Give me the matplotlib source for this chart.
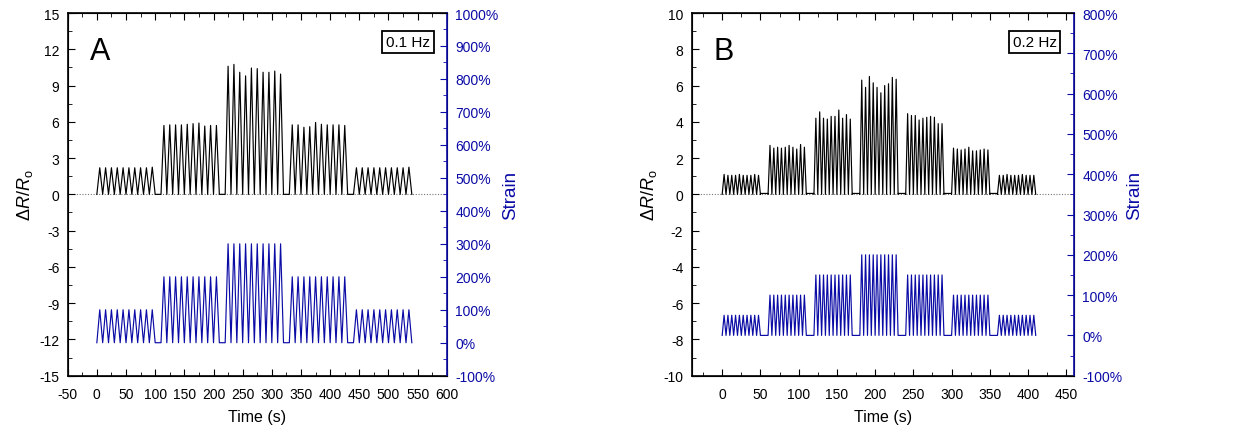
import numpy as np
import matplotlib
matplotlib.use('Agg')
import matplotlib.pyplot as plt
from matplotlib.ticker import MultipleLocator, FuncFormatter

plt.rcParams['font.family'] = ['Liberation Sans', 'DejaVu Sans']
plt.rcParams['mathtext.fontset'] = 'custom'
plt.rcParams['mathtext.rm'] = 'Liberation Sans'
plt.rcParams['mathtext.it'] = 'Liberation Sans:italic'
plt.rcParams['axes.unicode_minus'] = False

# ---- panel A: 0.1 Hz, 10 cycles per block ----
a_starts = [0, 110, 220, 330, 440]
a_period = 10
a_strain = [100, 200, 300, 200, 100]
a_peaks = [
    [2.2, 2.2, 2.2, 2.2, 2.2, 2.2, 2.2, 2.2, 2.2, 2.25],
    [5.7, 5.75, 5.75, 5.75, 5.8, 5.85, 5.9, 5.65, 5.7, 5.7],
    [10.6, 10.75, 10.1, 9.8, 10.45, 10.4, 10.1, 10.1, 10.2, 9.95],
    [5.75, 5.75, 5.55, 5.6, 5.95, 5.8, 5.75, 5.75, 5.75, 5.7],
    [2.2, 2.2, 2.2, 2.2, 2.2, 2.2, 2.2, 2.2, 2.2, 2.25],
]
a_rest = 0.1

# ---- panel B: 0.2 Hz ----
b_starts = [0, 60, 120, 180, 240, 300, 360]
b_period = 5
b_strain = [50, 100, 150, 200, 150, 100, 50]
b_peaks = [
    [1.1, 1.05, 1.05, 1.05, 1.1, 1.05, 1.05, 1.05, 1.1, 1.05],
    [2.7, 2.55, 2.6, 2.55, 2.6, 2.7, 2.6, 2.5, 2.75, 2.6],
    [4.2, 4.55, 4.2, 4.15, 4.3, 4.3, 4.65, 4.2, 4.4, 4.15],
    [6.3, 5.9, 6.5, 6.15, 5.9, 5.6, 6.0, 6.1, 6.45, 6.35],
    [4.45, 4.35, 4.35, 4.1, 4.2, 4.25, 4.3, 4.25, 3.9, 3.9],
    [2.55, 2.5, 2.45, 2.5, 2.6, 2.4, 2.4, 2.45, 2.5, 2.45],
    [1.05, 1.05, 1.1, 1.05, 1.05, 1.05, 1.1, 1.05, 1.05, 1.05],
]
b_rest = 0.05


def build(starts, period, peaks, low, rest):
    t, y = [], []
    for s, pk in zip(starts, peaks):
        for i, p in enumerate(pk):
            t += [s + i * period, s + i * period + period / 2]
            y += [low, p]
        t.append(s + len(pk) * period)
        y.append(low)
    # rest segments between blocks
    tt, yy = [], []
    for i in range(len(t)):
        tt.append(t[i]); yy.append(y[i])
        if i + 1 < len(t) and t[i + 1] - t[i] > period:
            tt += [t[i] + 0.5, t[i + 1] - 0.5]
            yy += [rest, rest]
    return tt, yy


blue = '#0b0ba6'
fs_tick = 10


def panel(ax, starts, period, peaks, strain, rest, ylim, ystep, rmax, xlim, xticks, letter, freq):
    t, r = build(starts, period, peaks, 0.0, rest)
    ax.axhline(0, color='#777777', lw=0.8, ls=(0, (1, 1.5)), zorder=1)
    ax.plot(t, r, color='black', lw=0.85, zorder=3)
    ax.set_xlim(*xlim)
    ax.set_ylim(*ylim)
    ax.set_xticks(xticks)
    ax.xaxis.set_minor_locator(MultipleLocator(25))
    ax.yaxis.set_major_locator(MultipleLocator(ystep))
    ax.yaxis.set_minor_locator(MultipleLocator(ystep / 2))
    ax.tick_params(which='both', direction='in', top=True, right=False, labelsize=fs_tick)
    ax.tick_params(which='major', length=5, pad=6)
    ax.tick_params(which='minor', length=3)
    ax.tick_params(axis='x', which='major', pad=8)
    ax.set_xlabel('Time (s)', fontsize=11.5, labelpad=6)
    ax.set_ylabel(r'$\mathit{\Delta R/R}_\mathrm{o}$', fontsize=13, labelpad=3)
    ax.text(0.085, 0.895, letter, transform=ax.transAxes, fontsize=22, ha='center', va='center')
    ax.text(0.897, 0.92, freq, transform=ax.transAxes, fontsize=11, ha='center', va='center',
            bbox=dict(boxstyle='square,pad=0.25', fc='white', ec='black', lw=1.3))

    ax2 = ax.twinx()
    ts, sv = build(starts, period, [[s] * 10 for s in strain], 0.0, 0.0)
    ax2.plot(ts, sv, color=blue, lw=0.85)
    ax2.set_ylim(-100, rmax)
    ax2.yaxis.set_major_locator(MultipleLocator(100))
    ax2.yaxis.set_minor_locator(MultipleLocator(50))
    ax2.yaxis.set_major_formatter(FuncFormatter(lambda v, p: '%d%%' % v))
    ax2.tick_params(which='both', direction='in', colors=blue, labelsize=fs_tick)
    ax2.tick_params(which='major', length=5, pad=6)
    ax2.tick_params(which='minor', length=3)
    ax2.spines['right'].set_color(blue)
    ax2.spines['right'].set_linewidth(1.2)
    ax2.set_ylabel('Strain', color=blue, fontsize=13.5, labelpad=3)
    for sp in ['left', 'top', 'bottom']:
        ax.spines[sp].set_linewidth(1.2)


fig = plt.figure(figsize=(12.35, 4.31), dpi=100)
axA = fig.add_axes([0.0548, 0.126, 0.307, 0.8415])
axB = fig.add_axes([0.560, 0.126, 0.3096, 0.8415])

panel(axA, a_starts, a_period, a_peaks, a_strain, a_rest, (-15, 15), 3, 1000,
      (-50, 600), range(-50, 601, 50), 'A', '0.1 Hz')
panel(axB, b_starts, b_period, b_peaks, b_strain, b_rest, (-10, 10), 2, 800,
      (-40, 460), range(0, 451, 50), 'B', '0.2 Hz')

fig.savefig('out.png', dpi=100)
